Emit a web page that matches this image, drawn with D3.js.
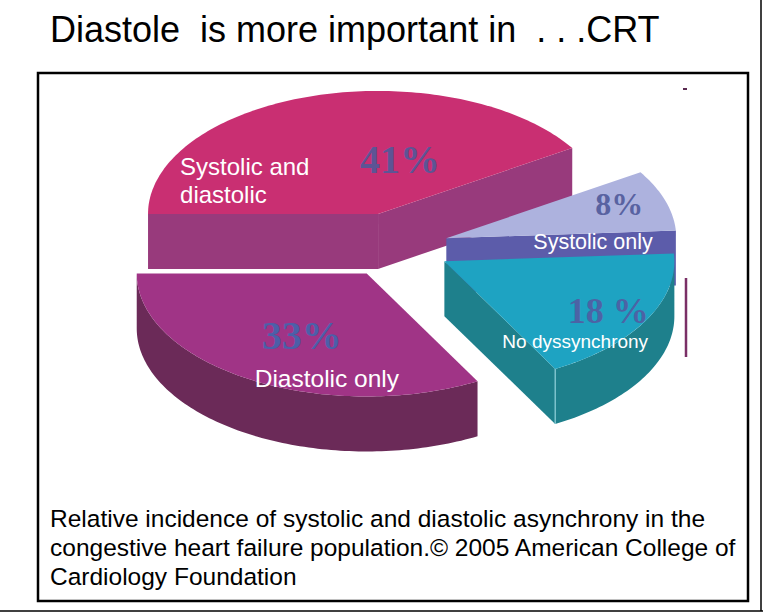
<!DOCTYPE html>
<html>
<head>
<meta charset="utf-8">
<script src="https://cdn.jsdelivr.net/npm/d3@7"></script>
<style>
  body { margin: 0; background: #fff; }
  svg { display: block; }
</style>
</head>
<body>
<div id="wrapper"></div>
<script>
// data
const categories = ["Systolic and diastolic", "Systolic only", "No dyssynchrony", "Diastolic only"];
const categoryLines = [["Systolic and", "diastolic"], ["Systolic only"], ["No dyssynchrony"], ["Diastolic only"]];
const percents = [41, 8, 18, 33];
const percentLabels = ["41%", "8%", "18 %", "33%"];
const titleText = "Diastole  is more important in  . . .CRT";
const captionLines = [
    "Relative incidence of systolic and diastolic asynchrony in the",
    "congestive heart failure population.\u00a9 2005 American College of",
    "Cardiology Foundation"
];

function buildChart() {
    const dimension = { width: 763, height: 613 };

    // 3d pie look
    const pie3d = { cx: 396, cy: 247, rx: 230, ry: 123, depth: 55 };
    const explode = [0.28, 0.23, 0.24, 0.25];
    const topColors = ["#c92f72", "#adb2de", "#1ea3c2", "#a03486"];
    const sideColors = ["#983a7c", "#5c5caa", "#1e808c", "#6b2a58"];
    const seamColors = ["#d070a0", "#c8ccee", "#8fd0da", "#b070a0"];
    const pctColors = ["#4a5c9c", "#4a5496", "#5558a0", "#3d68b0"];
    const pctSizes = [40, 32, 36, 40];
    // label offsets from the slice apex (px)
    const pctOffset = [[22, -41], [173, -23], [164, 62], [-65, 76]];
    const catOffset = [[-198, -39], [87, 11], [58, 87], [-112, 114]];
    const catSizes = [24, 21.5, 19, 24.5];

    const svg = d3.select("#wrapper").append("svg")
        .attr("width", dimension.width)
        .attr("height", dimension.height);

    // slide border
    svg.append("line").attr("x1", 761).attr("x2", 761).attr("y1", 0).attr("y2", 611)
        .attr("stroke", "#000").attr("stroke-width", 1.5);
    svg.append("line").attr("x1", 0).attr("x2", 763).attr("y1", 611).attr("y2", 611)
        .attr("stroke", "#000").attr("stroke-width", 1.5);

    svg.append("text")
        .attr("x", 50).attr("y", 42)
        .attr("font-family", "Liberation Sans, Arial, sans-serif")
        .attr("font-size", 36)
        .style("white-space", "pre")
        .text(titleText);

    svg.append("rect")
        .attr("x", 38).attr("y", 73).attr("width", 710).attr("height", 528)
        .attr("fill", "none").attr("stroke", "#000").attr("stroke-width", 2.5);

    const xScale = d3.scaleLinear().domain([-1, 1]).range([pie3d.cx - pie3d.rx, pie3d.cx + pie3d.rx]);
    const yScale = d3.scaleLinear().domain([-1, 1]).range([pie3d.cy + pie3d.ry, pie3d.cy - pie3d.ry]);

    const arcs = d3.pie().sort(null)
        .startAngle(-Math.PI / 2).endAngle(3 * Math.PI / 2)(percents);

    arcs.forEach((d, i) => {
        const mid = (d.startAngle + d.endAngle) / 2;
        d.off = [explode[i] * Math.sin(mid), explode[i] * Math.cos(mid)];
    });

    const pt = (d, a, r, dz) => [
        xScale(d.off[0] + r * Math.sin(a)),
        yScale(d.off[1] + r * Math.cos(a)) + (dz || 0)
    ];
    const arcPts = (d, a0, a1, dz) => {
        const n = Math.max(2, Math.ceil(Math.abs(a1 - a0) / 0.02));
        return d3.range(n + 1).map(k => pt(d, a0 + (a1 - a0) * k / n, 1, dz));
    };
    const line = d3.line();

    // back to front
    const order = [0, 1, 3, 2];
    const chart = svg.append("g");

    order.forEach(i => {
        const d = arcs[i];
        const g = chart.append("g");
        const h = pie3d.depth;
        const c = pt(d, 0, 0);
        const r0 = Math.max(d.startAngle, Math.PI / 2);
        const r1 = Math.min(d.endAngle, 3 * Math.PI / 2);
        const seams = [];

        // cut faces that face the viewer
        [[d.startAngle, d.startAngle - Math.PI / 2], [d.endAngle, d.endAngle + Math.PI / 2]]
            .forEach(([a, n]) => {
                if (Math.cos(n) < 0) {
                    const p = pt(d, a, 1);
                    g.append("path")
                        .attr("d", line([c, p, [p[0], p[1] + h], [c[0], c[1] + h]]) + "Z")
                        .attr("fill", sideColors[i]);
                    if (r1 > r0 && a >= r0 && a <= r1) seams.push(p);
                }
            });

        // outer rim, front half only
        if (r1 > r0) {
            const rim = arcPts(d, r0, r1, 0).concat(arcPts(d, r1, r0, h));
            g.append("path").attr("d", line(rim) + "Z").attr("fill", sideColors[i]);
        }
        seams.forEach(p => {
            g.append("line")
                .attr("x1", p[0]).attr("x2", p[0]).attr("y1", p[1]).attr("y2", p[1] + h)
                .attr("stroke", seamColors[i]).attr("stroke-width", 1.2);
        });

        // top
        const top = [c].concat(arcPts(d, d.startAngle, d.endAngle, 0));
        g.append("path").attr("d", line(top) + "Z").attr("fill", topColors[i]);
    });

    // percent labels
    arcs.forEach((d, i) => {
        const c = pt(d, 0, 0);
        chart.append("text")
            .attr("x", c[0] + pctOffset[i][0])
            .attr("y", c[1] + pctOffset[i][1])
            .attr("text-anchor", "middle")
            .attr("font-family", "Liberation Serif, Times New Roman, serif")
            .attr("font-weight", "bold")
            .attr("font-size", pctSizes[i])
            .attr("fill", pctColors[i])
            .attr("fill-opacity", 0.85)
            .style("white-space", "pre")
            .text(percentLabels[i]);
    });

    // category labels
    arcs.forEach((d, i) => {
        const c = pt(d, 0, 0);
        const t = chart.append("text")
            .attr("font-family", "Liberation Sans, Arial, sans-serif")
            .attr("font-size", catSizes[i])
            .attr("fill", "#fff");
        categoryLines[i].forEach((s, k) => {
            t.append("tspan")
                .attr("x", c[0] + catOffset[i][0])
                .attr("y", c[1] + catOffset[i][1] + k * 28)
                .text(s);
        });
    });

    // stray bits in the scan
    svg.append("rect").attr("x", 683).attr("y", 88).attr("width", 4).attr("height", 2).attr("fill", "#5a2a50");
    svg.append("line").attr("x1", 686).attr("x2", 686).attr("y1", 278).attr("y2", 357)
        .attr("stroke", "#7a2f66").attr("stroke-width", 2.5);

    const cap = svg.append("text")
        .attr("font-family", "Liberation Sans, Arial, sans-serif")
        .attr("font-size", 24.5)
        .attr("fill", "#000");
    captionLines.forEach((s, k) => {
        cap.append("tspan").attr("x", 50).attr("y", 527 + k * 29).text(s);
    });
}

buildChart();
</script>
</body>
</html>
